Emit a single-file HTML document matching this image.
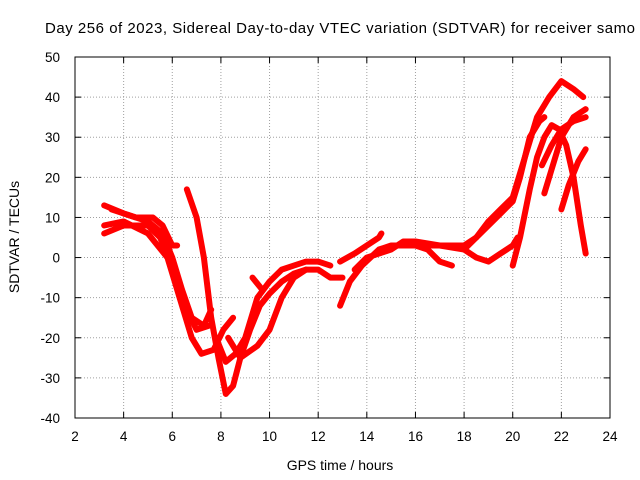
<!DOCTYPE html>
<html><head><meta charset="utf-8"><style>
body{margin:0;background:#fff}
svg{display:block;font-family:"Liberation Sans",sans-serif}
</style></head><body>
<svg id="chart" width="640" height="480" viewBox="0 0 640 480">
<text x="45" y="33" font-size="15" textLength="590" lengthAdjust="spacing" fill="#000">Day 256 of 2023, Sidereal Day-to-day VTEC variation (SDTVAR) for receiver samo</text>
<g id="grid"></g><g id="ticks"></g><g id="series"></g>
<rect x="75" y="57" width="535" height="361" fill="none" stroke="#000" stroke-width="1"/>
<text x="340" y="470" font-size="14" text-anchor="middle">GPS time / hours</text>
<text transform="translate(19,237) rotate(-90)" font-size="14" text-anchor="middle">SDTVAR / TECUs</text>
</svg>
<script>
const xTicks=[2,4,6,8,10,12,14,16,18,20,22,24];
const yTicks=[-40,-30,-20,-10,0,10,20,30,40,50];
const s1=[[3.2,13],[4,11],[5,9],[5.6,6],[6,0],[6.4,-8],[6.8,-15],[7.3,-17],[7.6,-13]];
const s2=[[3.2,8],[4,9],[5,6],[5.8,0],[6.3,-10],[6.8,-20],[7.2,-24],[7.7,-23],[8.1,-18],[8.5,-15]];
const s3=[[3.2,6],[4,8],[5,8],[5.5,5],[6,-2],[6.5,-12],[7,-18],[7.5,-17]];
const s4=[[3.5,12],[4.5,10],[5.2,10],[5.6,8],[6,3],[6.2,3]];
const s5=[[6.6,17],[7,10],[7.3,0],[7.6,-15],[7.9,-25],[8.2,-34],[8.5,-32],[8.8,-25],[9.2,-18],[9.6,-12],[10,-9],[10.5,-6],[11,-4],[11.5,-3]];
const s6=[[7.8,-20],[8.2,-26],[8.6,-24],[9,-20],[9.5,-10],[10,-6],[10.5,-3],[11,-2],[11.5,-1],[12,-1],[12.5,-2]];
const s7=[[8.3,-20],[8.8,-25],[9.5,-22],[10,-18],[10.5,-10],[11,-5],[11.5,-3],[12,-3],[12.5,-5],[13,-5]];
const s8=[[9.3,-5],[9.7,-8]];
const s9=[[12.9,-12],[13.3,-6],[13.8,-2],[14.5,2],[15,3],[15.5,3],[16,3],[16.5,2],[17,-1],[17.5,-2]];
const s10=[[12.9,-1],[13.5,1],[14,3],[14.5,5],[14.6,6]];
const s11=[[13.5,-3],[14,0],[14.5,1],[15,2],[15.5,4],[16,4],[17,3],[18,2],[18.5,0],[19,-1],[19.5,1],[20,3],[20.2,5]];
const s12=[[16,3],[17,3],[18,3],[18.5,5],[19,8],[19.5,11],[20,14],[20.3,20],[20.7,30],[21.1,34],[21.3,35]];
const s13=[[18,2],[18.5,5],[19,9],[19.5,12],[20,15],[20.5,25],[21,35],[21.5,40],[22,44],[22.5,42],[22.9,40]];
const s14=[[20,-2],[20.3,5],[20.7,17],[21,25],[21.3,30],[21.6,33],[21.9,32],[22.2,28],[22.5,20],[22.8,8],[23,1]];
const s15=[[21.3,16],[21.6,22],[22,30],[22.5,35],[23,37]];
const s16=[[21.2,23],[21.6,28],[22,32],[22.5,34],[23,35]];
const s17=[[22,12],[22.3,18],[22.7,24],[23,27]];
const allSeries=[s1,s2,s3,s4,s5,s6,s7,s8,s9,s10,s11,s12,s13,s14,s15,s16,s17];
const NS="http://www.w3.org/2000/svg";
const X=v=>75+(v-2)*535/22, Y=v=>57+(50-v)*361/90;
const grid=document.getElementById('grid'),ticks=document.getElementById('ticks'),ser=document.getElementById('series');
function mk(tag,a,p){const e=document.createElementNS(NS,tag);for(const k in a)e.setAttribute(k,a[k]);p.appendChild(e);return e;}
xTicks.forEach(t=>{
 const x=X(t);
 if(t>2&&t<24){const g=mk('line',{x1:x,x2:x,y1:57,y2:418,stroke:'#a0a0a0','stroke-dasharray':'1,2'},grid);
 
 }
 mk('line',{x1:x,x2:x,y1:418,y2:412,stroke:'#000'},ticks);
 mk('line',{x1:x,x2:x,y1:57,y2:63,stroke:'#000'},ticks);
 const l=mk('text',{x:x,y:441,'font-size':13.5,'text-anchor':'middle'},ticks);l.textContent=t;
 
 
});
yTicks.forEach(t=>{
 const y=Y(t);
 if(t>-40&&t<50){const g=mk('line',{x1:75,x2:610,y1:y,y2:y,stroke:'#a0a0a0','stroke-dasharray':'1,2'},grid);
 
 }
 mk('line',{x1:75,x2:81,y1:y,y2:y,stroke:'#000'},ticks);
 mk('line',{x1:610,x2:604,y1:y,y2:y,stroke:'#000'},ticks);
 const l=mk('text',{x:60,y:y+5,'font-size':13.5,'text-anchor':'end'},ticks);l.textContent=t;
 
 
});
allSeries.forEach((s,i)=>{
 const p=mk('polyline',{points:s.map(d=>X(d[0])+','+Y(d[1])).join(' '),fill:'none',stroke:'#ff0000','stroke-width':6,'stroke-linejoin':'round','stroke-linecap':'round'},ser);
 
 
});
</script>
</body></html>
